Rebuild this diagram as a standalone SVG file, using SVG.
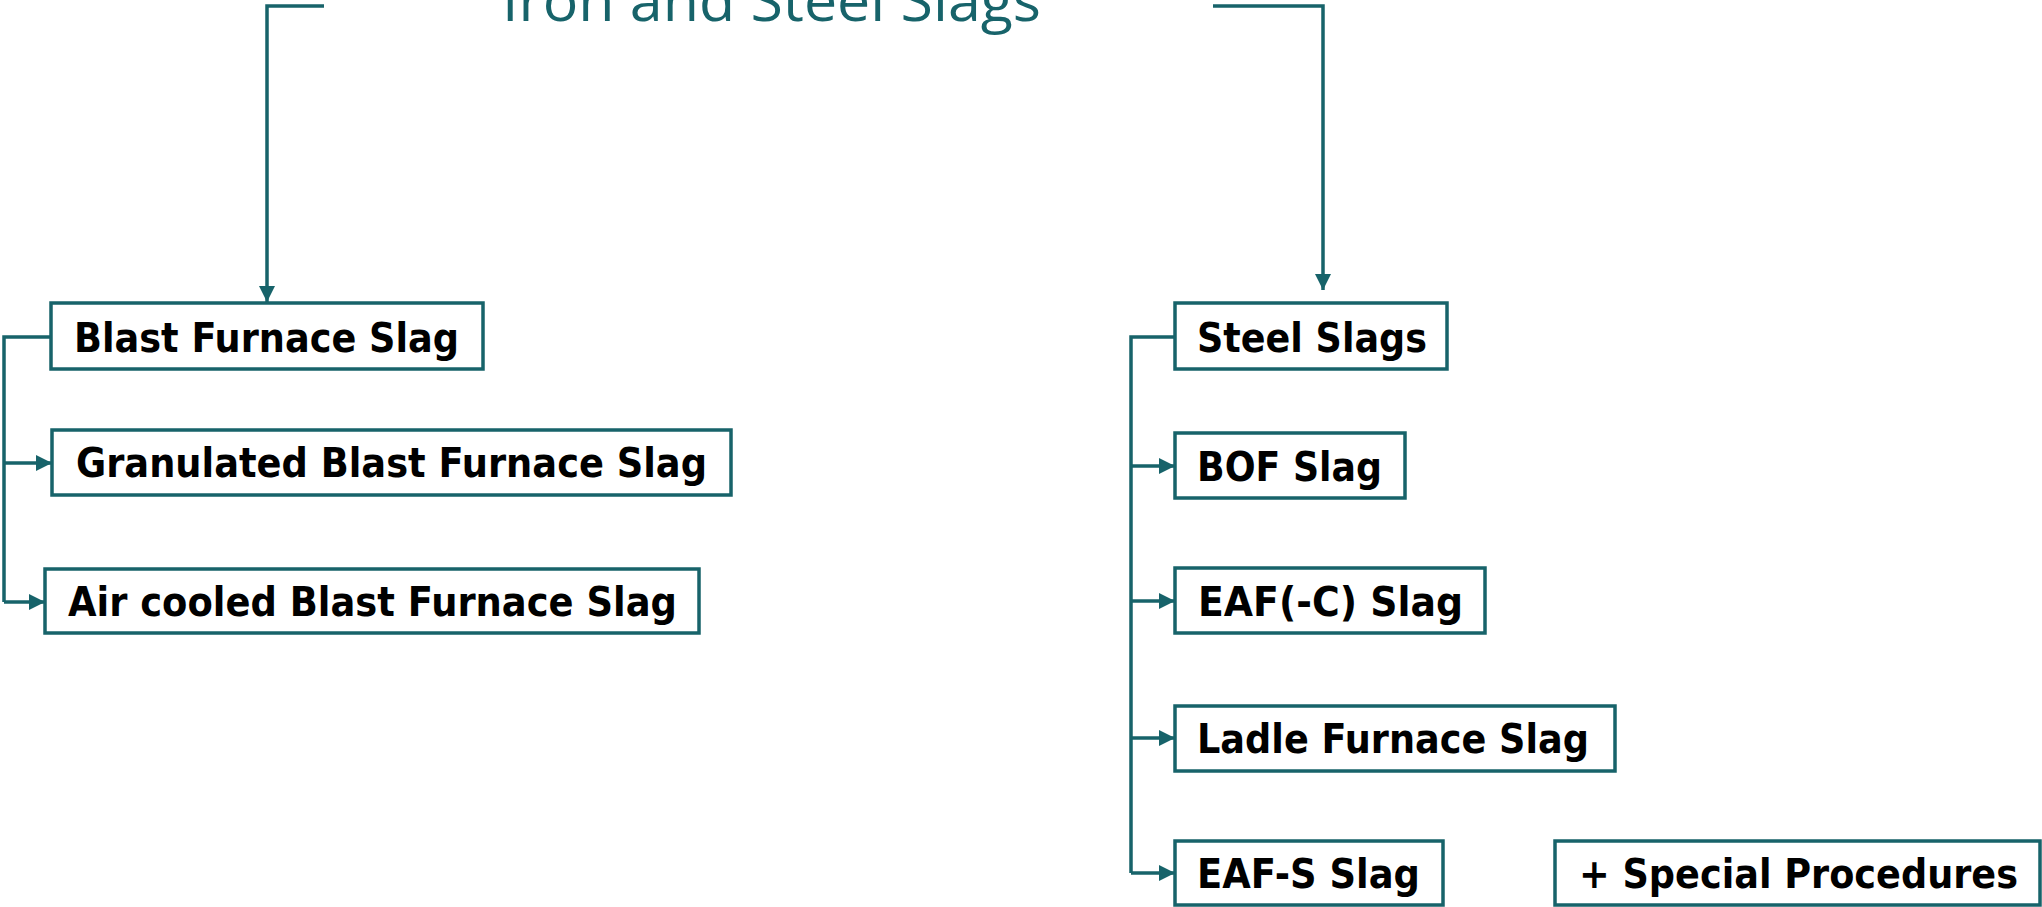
<svg xmlns="http://www.w3.org/2000/svg" width="2042" height="907" viewBox="0 0 2042 907">
<style>
.box{fill:#fff;stroke:#17636A;stroke-width:3.5}
.lbl{font-family:"DejaVu Sans","Liberation Sans",sans-serif;font-weight:bold;font-size:40px;fill:#000}
.con{fill:none;stroke:#17636A;stroke-width:3.5}
.title{font-family:"Open Sans","Liberation Sans",sans-serif;font-size:57px;fill:#17636A}
</style>
<defs>
<marker id="arr" markerUnits="userSpaceOnUse" markerWidth="17" markerHeight="17" refX="16" refY="8" orient="auto">
<path d="M0,0 L16,8 L0,16 Z" fill="#17636A"/>
</marker>
</defs>
<g id="title">
<text class="title" x="502" y="21" textLength="539" lengthAdjust="spacingAndGlyphs">Iron and Steel Slags</text>
</g>
<g id="connectors">
<path class="con" d="M324,6 H267 V302" marker-end="url(#arr)"/>
<path class="con" d="M1213,6 H1323 V290" marker-end="url(#arr)"/>
<path class="con" d="M51,337 H4 V602"/>
<path class="con" d="M4,463 H52" marker-end="url(#arr)"/>
<path class="con" d="M4,602 H45" marker-end="url(#arr)"/>
<path class="con" d="M1178,337 H1131 V873"/>
<path class="con" d="M1131,466 H1175" marker-end="url(#arr)"/>
<path class="con" d="M1131,601 H1175" marker-end="url(#arr)"/>
<path class="con" d="M1131,738 H1175" marker-end="url(#arr)"/>
<path class="con" d="M1131,873 H1175" marker-end="url(#arr)"/>
</g>
<g id="bfs">
<rect class="box" x="51" y="303" width="432" height="66"/>
<text class="lbl" x="74" y="352" textLength="385" lengthAdjust="spacingAndGlyphs">Blast Furnace Slag</text>
</g>
<g id="gbfs">
<rect class="box" x="52" y="430" width="679" height="65"/>
<text class="lbl" x="76" y="477" textLength="631" lengthAdjust="spacingAndGlyphs">Granulated Blast Furnace Slag</text>
</g>
<g id="acbfs">
<rect class="box" x="45" y="569" width="654" height="64"/>
<text class="lbl" x="68" y="616" textLength="609" lengthAdjust="spacingAndGlyphs">Air cooled Blast Furnace Slag</text>
</g>
<g id="steel">
<rect class="box" x="1175" y="303" width="272" height="66"/>
<text class="lbl" x="1197" y="352" textLength="230" lengthAdjust="spacingAndGlyphs">Steel Slags</text>
</g>
<g id="bof">
<rect class="box" x="1175" y="433" width="230" height="65"/>
<text class="lbl" x="1197" y="481" textLength="185" lengthAdjust="spacingAndGlyphs">BOF Slag</text>
</g>
<g id="eafc">
<rect class="box" x="1175" y="568" width="310" height="65"/>
<text class="lbl" x="1198" y="616" textLength="265" lengthAdjust="spacingAndGlyphs">EAF(-C) Slag</text>
</g>
<g id="ladle">
<rect class="box" x="1175" y="706" width="440" height="65"/>
<text class="lbl" x="1197" y="753" textLength="392" lengthAdjust="spacingAndGlyphs">Ladle Furnace Slag</text>
</g>
<g id="eafs">
<rect class="box" x="1175" y="841" width="268" height="64"/>
<text class="lbl" x="1197" y="888" textLength="223" lengthAdjust="spacingAndGlyphs">EAF-S Slag</text>
</g>
<g id="special">
<rect class="box" x="1555" y="841" width="485" height="64"/>
<text class="lbl" x="1579" y="888" textLength="439" lengthAdjust="spacingAndGlyphs">+ Special Procedures</text>
</g>
</svg>
